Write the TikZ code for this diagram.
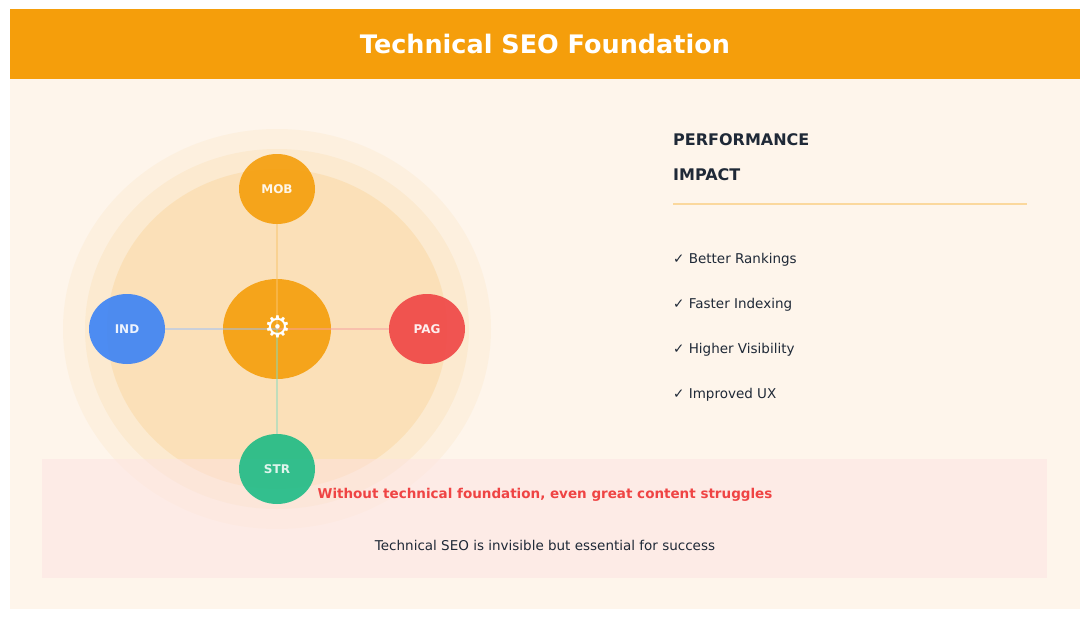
\documentclass[tikz,border=0pt]{standalone}
\usepackage{fontspec}
\setmainfont{DejaVu Sans}
\usetikzlibrary{shapes.geometric}
\definecolor{org}{HTML}{F59E0B}
\definecolor{bg}{HTML}{FEF5EB}
\definecolor{dark}{HTML}{1F2937}
\definecolor{blu}{HTML}{3B82F6}
\definecolor{redc}{HTML}{EF4444}
\definecolor{grn}{HTML}{10B981}
\begin{document}
\begin{tikzpicture}[x=1pt,y=-1pt,
  sat/.style={ellipse,minimum width=76pt,minimum height=70pt,inner sep=0pt,text=white,font=\bfseries\fontsize{12}{14}\selectfont},
  item/.style={anchor=west,inner sep=0pt,text=dark,font=\fontsize{13.5}{16}\selectfont}]
\useasboundingbox (0,0) rectangle (1090,619);
\fill[white] (0,0) rectangle (1090,619);
\fill[bg] (10,9) rectangle (1080,609);
\fill[org] (10,9) rectangle (1080,79);
\node[text=white,font=\bfseries\fontsize{25.5}{30}\selectfont] (title) at (545,44) {Technical SEO Foundation};
\fill[org,opacity=0.05] (277,329) ellipse [x radius=214,y radius=200];
\fill[org,opacity=0.07] (277,329) ellipse [x radius=192,y radius=180];
\fill[org,opacity=0.12] (277,329) ellipse [x radius=170,y radius=160];
\fill[redc!15,opacity=0.5] (42,459) rectangle (1047,578);
\coordinate (c) at (277,329);
\node[sat,fill=org,opacity=0.9] (mob) at (277,189) {MOB};
\node[sat,fill=blu,opacity=0.9] (ind) at (127,329) {IND};
\node[sat,fill=redc,opacity=0.9] (pag) at (427,329) {PAG};
\node[sat,fill=grn,opacity=0.85] (str) at (277,469) {STR};
\node[ellipse,fill=org,opacity=0.9,minimum width=108pt,minimum height=100pt] (hub) at (c) {};
\draw[org!60,line width=2pt,opacity=0.5] (c) -- (mob);
\draw[blu!50,line width=2pt,opacity=0.5] (c) -- (ind);
\draw[redc!50,line width=2pt,opacity=0.5] (c) -- (pag);
\draw[grn!50,line width=2pt,opacity=0.5] (c) -- (str);
\node[text=white,font=\fontsize{30}{32}\selectfont] (gear) at (278,327) {⚙};
\node[anchor=west,inner sep=0pt,text=dark,font=\bfseries\fontsize{16}{19}\selectfont] (p1) at (673,140) {PERFORMANCE};
\node[anchor=west,inner sep=0pt,text=dark,font=\bfseries\fontsize{16}{19}\selectfont] (p2) at (673,175) {IMPACT};
\draw[org!40,line width=1.5pt] (673,204) -- (1027,204);
\node[item] (i1) at (673,260) {✓ Better Rankings};
\node[item] (i2) at (673,305) {✓ Faster Indexing};
\node[item] (i3) at (673,350) {✓ Higher Visibility};
\node[item] (i4) at (673,395) {✓ Improved UX};
\node[text=redc,font=\bfseries\fontsize{13.5}{16}\selectfont] (w1) at (545,495) {Without technical foundation, even great content struggles};
\node[text=dark,font=\fontsize{13.5}{16}\selectfont] (w2) at (545,545) {Technical SEO is invisible but essential for success};
\end{tikzpicture}
\end{document}
